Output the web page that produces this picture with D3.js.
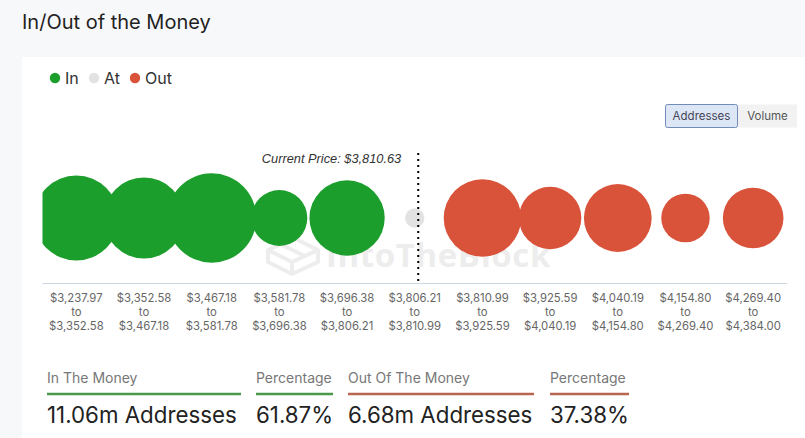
<!DOCTYPE html>
<html><head><meta charset="utf-8">
<script src="https://cdn.jsdelivr.net/npm/d3@7/dist/d3.min.js"></script>
<style>
html,body{margin:0;padding:0;background:#f7f8fa;}
svg{display:block;}
</style></head>
<body>
<svg id="c" width="805" height="438"></svg>
<script>
// ---- data ----
const categories = [
  ["$3,237.97","to","$3,352.58"],
  ["$3,352.58","to","$3,467.18"],
  ["$3,467.18","to","$3,581.78"],
  ["$3,581.78","to","$3,696.38"],
  ["$3,696.38","to","$3,806.21"],
  ["$3,806.21","to","$3,810.99"],
  ["$3,810.99","to","$3,925.59"],
  ["$3,925.59","to","$4,040.19"],
  ["$4,040.19","to","$4,154.80"],
  ["$4,154.80","to","$4,269.40"],
  ["$4,269.40","to","$4,384.00"]
];
const status = ["In","In","In","In","In","At","Out","Out","Out","Out","Out"];
const addresses = [2.61, 2.37, 2.89, 1.13, 2.05, 0.135, 2.17, 1.41, 1.66, 0.85, 1.33]; // millions (bubble size)
const legendItems = ["In","At","Out"];
const currentPrice = "$3,810.63";
const summary = [
  {title:"In The Money", value:"11.06m Addresses", kind:"In"},
  {title:"Percentage", value:"61.87%", kind:"In"},
  {title:"Out Of The Money", value:"6.68m Addresses", kind:"Out"},
  {title:"Percentage", value:"37.38%", kind:"Out"}
];

// ---- styles ----
const colors = {In:"#1c9e2c", At:"#e2e2e2", Out:"#d9533a"};
const lineColors = {In:"#4b9a4b", Out:"#b8654f"};
const FONT = "Inter, 'Open Sans', sans-serif";

const svg = d3.select("#c");

// title
svg.append("text").attr("x",22).attr("y",29)
  .attr("font-family",FONT).attr("font-size",20).attr("fill","#1f1f1f")
  .text("In/Out of the Money");

// panel
svg.append("rect").attr("x",22).attr("y",57).attr("width",805).attr("height",400).attr("fill","#fff");

// legend
const lg = svg.append("g").attr("font-family",FONT).attr("font-size",16).attr("fill","#333");
const legX = [55, 94, 135];
legendItems.forEach((k,i)=>{
  lg.append("circle").attr("cx",legX[i]).attr("cy",78).attr("r",5.2).attr("fill",colors[k]);
  lg.append("text").attr("x",legX[i]+10).attr("y",84).text(k);
});

// buttons
const bg = svg.append("g").attr("font-family",FONT).attr("font-size",11.5);
bg.append("rect").attr("x",738).attr("y",104.5).attr("width",59).attr("height",23).attr("fill","#f2f2f2");
bg.append("text").attr("x",767.5).attr("y",120).attr("text-anchor","middle").attr("fill","#555").text("Volume");
bg.append("rect").attr("x",665.5).attr("y",104.5).attr("width",72).attr("height",23).attr("rx",2)
  .attr("fill","#dde6f5").attr("stroke","#6f8db8").attr("stroke-width",1);
bg.append("text").attr("x",701.5).attr("y",120).attr("text-anchor","middle").attr("fill","#445").text("Addresses");

// scales
const x = d3.scaleBand().domain(d3.range(categories.length)).range([42.5, 787]).padding(0);
const r = d3.scaleSqrt().domain([0, d3.max(addresses)]).range([0, 44.7]);
const cy = 218;

// watermark
const wm = svg.append("g");
wm.append("text").attr("x",326).attr("y",267).attr("font-family","'Open Sans', sans-serif")
  .attr("font-weight",700).attr("font-size",33).attr("fill","#ededed").attr("letter-spacing",0.6).text("IntoTheBlock");
const lp = wm.append("g").attr("fill","none").attr("stroke","#ededed").attr("stroke-width",4).attr("stroke-linejoin","round");
lp.append("path").attr("d","M268,250 L294,238 L318,250 L318,262 L292,274 L268,262 Z");
lp.append("path").attr("d","M268,250 L292,262 L318,250 M292,262 L292,274 M280,244 L305,256");

// plot clip
svg.append("clipPath").attr("id","clip").append("rect").attr("x",42.5).attr("y",100).attr("width",745).attr("height",183);

// axis line
svg.append("line").attr("x1",42.5).attr("x2",787).attr("y1",283.5).attr("y2",283.5)
  .attr("stroke","#ccd6e0").attr("stroke-width",1);

// bubbles
svg.append("g").attr("clip-path","url(#clip)")
  .selectAll("circle").data(addresses).join("circle")
  .attr("cx",(d,i)=>x(i)+x.bandwidth()/2)
  .attr("cy",cy)
  .attr("r",d=>r(d))
  .attr("fill",(d,i)=>colors[status[i]]);

// current price line
const atIdx = status.indexOf("At");
const cpx = x(atIdx)+x.bandwidth()/2+3.5;
svg.append("line").attr("x1",cpx).attr("x2",cpx).attr("y1",153).attr("y2",284)
  .attr("stroke","#000").attr("stroke-width",2).attr("stroke-dasharray","2,4");
svg.append("text").attr("x",cpx-17).attr("y",163).attr("text-anchor","end")
  .attr("font-family","'Liberation Sans', Arial, sans-serif").attr("font-style","italic")
  .attr("font-size",12.8).attr("fill","#333").text("Current Price: " + currentPrice);

// x labels
const lab = svg.append("g").attr("font-family",FONT).attr("font-size",11.3).attr("fill","#666").attr("text-anchor","middle");
categories.forEach((c,i)=>{
  const t = lab.append("text").attr("x",x(i)+x.bandwidth()/2).attr("y",302);
  c.forEach((s,j)=>t.append("tspan").attr("x",x(i)+x.bandwidth()/2).attr("dy",j===0?0:14).text(s));
});

// summary
const sx = [[47,241],[256,333],[348,534],[550,629]];
const sg = svg.append("g").attr("font-family",FONT);
summary.forEach((s,i)=>{
  sg.append("text").attr("x",sx[i][0]).attr("y",383).attr("font-size",14).attr("fill","#777").text(s.title);
  sg.append("line").attr("x1",sx[i][0]).attr("x2",sx[i][1]).attr("y1",394).attr("y2",394)
    .attr("stroke",lineColors[s.kind]).attr("stroke-width",2.5);
  sg.append("text").attr("x",sx[i][0]).attr("y",423).attr("font-size",22.3).attr("fill","#222").text(s.value);
});
</script>
</body></html>
